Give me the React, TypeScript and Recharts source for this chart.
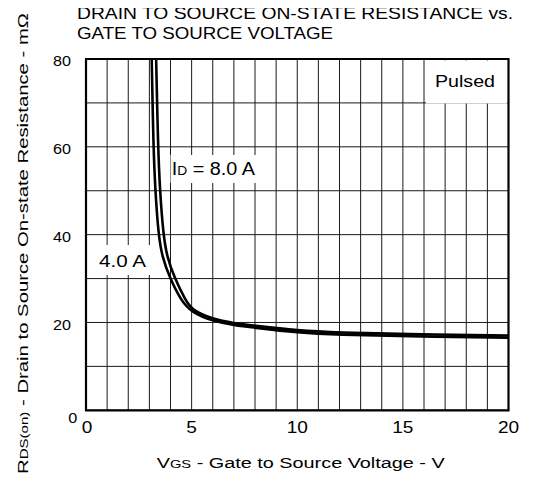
import React from 'react';
import { LineChart, Line, XAxis, YAxis, CartesianGrid, ReferenceArea } from 'recharts';

const FONT = '"Liberation Sans", Arial, Helvetica, sans-serif';

// Axis ticks
const xTicks = [0, 1, 2, 3, 4, 5, 6, 7, 8, 9, 10, 11, 12, 13, 14, 15, 16, 17, 18, 19, 20];
const yTicks = [0, 10, 20, 30, 40, 50, 60, 70, 80];
const xLabelTicks = [0, 5, 10, 15, 20];
const yLabelTicks = [0, 20, 40, 60, 80];

// ID = 4.0 A curve
const vgs4A = [3.11, 3.19, 3.28, 3.43, 3.6, 3.98, 4.5, 5, 6, 7, 8, 10, 12, 15, 20];
const rds4A = [80, 60, 50, 40, 35, 30, 25, 22.3, 20.3, 19.4, 18.8, 17.7, 17.2, 16.85, 16.55];

// ID = 8.0 A curve
const vgs8A = [3.32, 3.41, 3.5, 3.66, 3.83, 4.2, 4.72, 5, 6, 7, 8, 10, 12, 15, 20];
const rds8A = [80, 60, 50, 40, 35, 30, 25, 22.9, 20.75, 19.85, 19.25, 18.15, 17.68, 17.35, 17.05];

const data4A = vgs4A.map((v, i) => ({ vgs: v, rds: rds4A[i] }));
const data8A = vgs8A.map((v, i) => ({ vgs: v, rds: rds8A[i] }));

const XTick = (props: any) => {
  const { x, y, payload } = props;
  if (!xLabelTicks.includes(payload.value)) return <g />;
  const label = String(payload.value);
  const dx = payload.value === 0 ? 1 : 0;
  return (
    <text
      x={x + dx}
      y={y + 23}
      textAnchor="middle"
      fontSize={16}
      fontFamily={FONT}
      fill="#000"
      textLength={10.6 * label.length}
      lengthAdjust="spacingAndGlyphs"
    >
      {label}
    </text>
  );
};

const YTick = (props: any) => {
  const { x, y, payload } = props;
  if (!yLabelTicks.includes(payload.value)) return <g />;
  const label = String(payload.value);
  const isZero = payload.value === 0;
  return (
    <text
      x={x - (isZero ? 8.7 : 15)}
      y={y + (isZero ? 13 : 7.4)}
      textAnchor="end"
      fontSize={15.5}
      fontFamily={FONT}
      fill="#000"
      textLength={9 * label.length}
      lengthAdjust="spacingAndGlyphs"
    >
      {label}
    </text>
  );
};

export default function App() {
  return (
    <div style={{ position: 'relative', width: 536, height: 478, marginTop: -8, marginLeft: -8 }}>
      <LineChart
        width={536}
        height={478}
        margin={{ top: 59, right: 27.5, bottom: 37.7, left: 26 }}
      >
        <CartesianGrid stroke="#1a1a1a" strokeWidth={1} horizontal vertical />
        <XAxis
          type="number"
          dataKey="vgs"
          domain={[0, 20]}
          ticks={xTicks}
          interval={0}
          height={30}
          tickSize={0}
          tickMargin={0}
          tickLine={false}
          axisLine={false}
          tick={<XTick />}
          allowDataOverflow
        />
        <YAxis
          type="number"
          dataKey="rds"
          domain={[0, 80]}
          ticks={yTicks}
          interval={0}
          width={60}
          tickSize={0}
          tickMargin={0}
          tickLine={false}
          axisLine={false}
          tick={<YTick />}
          allowDataOverflow
        />
        <ReferenceArea x1={0} x2={20} y1={0} y2={80} fill="none" stroke="#000" strokeWidth={2.2} ifOverflow="visible" />
        <Line
          data={data4A}
          dataKey="rds"
          type="basis"
          stroke="#000"
          strokeWidth={2.6}
          dot={false}
          activeDot={false}
          isAnimationActive={false}
        />
        <Line
          data={data8A}
          dataKey="rds"
          type="basis"
          stroke="#000"
          strokeWidth={2.6}
          dot={false}
          activeDot={false}
          isAnimationActive={false}
        />
      </LineChart>
      <svg
        width={536}
        height={478}
        style={{ position: 'absolute', left: 0, top: 0, pointerEvents: 'none' }}
        fontFamily={FONT}
      >
        <text x={77} y={19} fontSize={16.5} fill="#000" textLength={436} lengthAdjust="spacingAndGlyphs">
          DRAIN TO SOURCE ON-STATE RESISTANCE vs.
        </text>
        <text x={77} y={39} fontSize={16.5} fill="#000" textLength={256} lengthAdjust="spacingAndGlyphs">
          GATE TO SOURCE VOLTAGE
        </text>

        <rect x={426} y={60.5} width={81} height={43} fill="#fff" />
        <text x={435} y={87.3} fontSize={17} fill="#000" textLength={60} lengthAdjust="spacingAndGlyphs">
          Pulsed
        </text>

        <rect x={170.5} y={155} width={86.5} height={28} fill="#fff" />
        <text x={171.7} y={175} fontSize={18} fill="#000" textLength={83.3} lengthAdjust="spacingAndGlyphs">
          I<tspan fontSize={12.5}>D</tspan> = 8.0 A
        </text>

        <rect x={88} y={245} width={64} height={30} fill="#fff" />
        <text x={99} y={266.7} fontSize={17} fill="#000" textLength={47} lengthAdjust="spacingAndGlyphs">
          4.0 A
        </text>

        <text x={156.7} y={468.3} fontSize={15.5} fill="#000" textLength={288} lengthAdjust="spacingAndGlyphs">
          V<tspan fontSize={11.5}>GS</tspan> - Gate to Source Voltage - V
        </text>

        <text
          transform="translate(28,243.5) rotate(-90)"
          fontSize={15.5}
          textAnchor="middle"
          fill="#000"
          textLength={461}
          lengthAdjust="spacingAndGlyphs"
        >
          R<tspan fontSize={11.5}>DS(on)</tspan> - Drain to Source On-state Resistance - mΩ
        </text>
      </svg>
    </div>
  );
}
